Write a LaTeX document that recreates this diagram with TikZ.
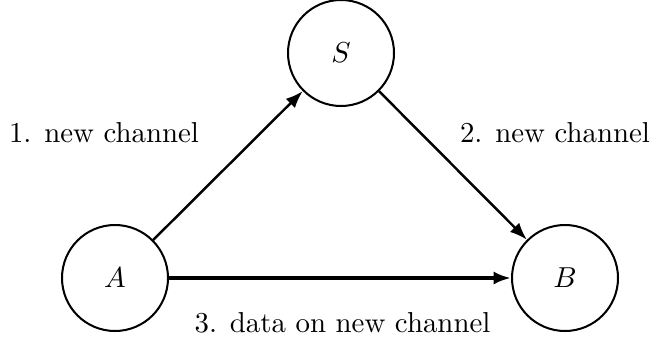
\documentclass[tikz,border=0pt]{standalone}
\usetikzlibrary{arrows.meta}
\begin{document}
\begin{tikzpicture}[x=0.3466pt,y=-0.3466pt,
  st/.style={circle,draw,line width=0.7pt,minimum size=106*0.3466pt,inner sep=0pt},
  arr/.style={-{Latex[length=6pt,width=4.5pt]},line width=0.85pt},
  lbl/.style={inner sep=0pt}]
\useasboundingbox (0,0) rectangle (652,339);
\node[st] (S) at (341,53) {$S$};
\node[st] (A) at (115,278) {$A$};
\node[st] (B) at (565,278) {$B$};
\draw[arr] (A) -- (S);
\draw[arr] (S) -- (B);
\draw[arr,line width=1.2pt] (A) -- (B);
\node[lbl] (l1) at (104,133) {1. new channel};
\node[lbl] (l2) at (555,133) {2. new channel};
\node[lbl] (l3) at (342.5,323) {3. data on new channel};
\end{tikzpicture}
\end{document}
